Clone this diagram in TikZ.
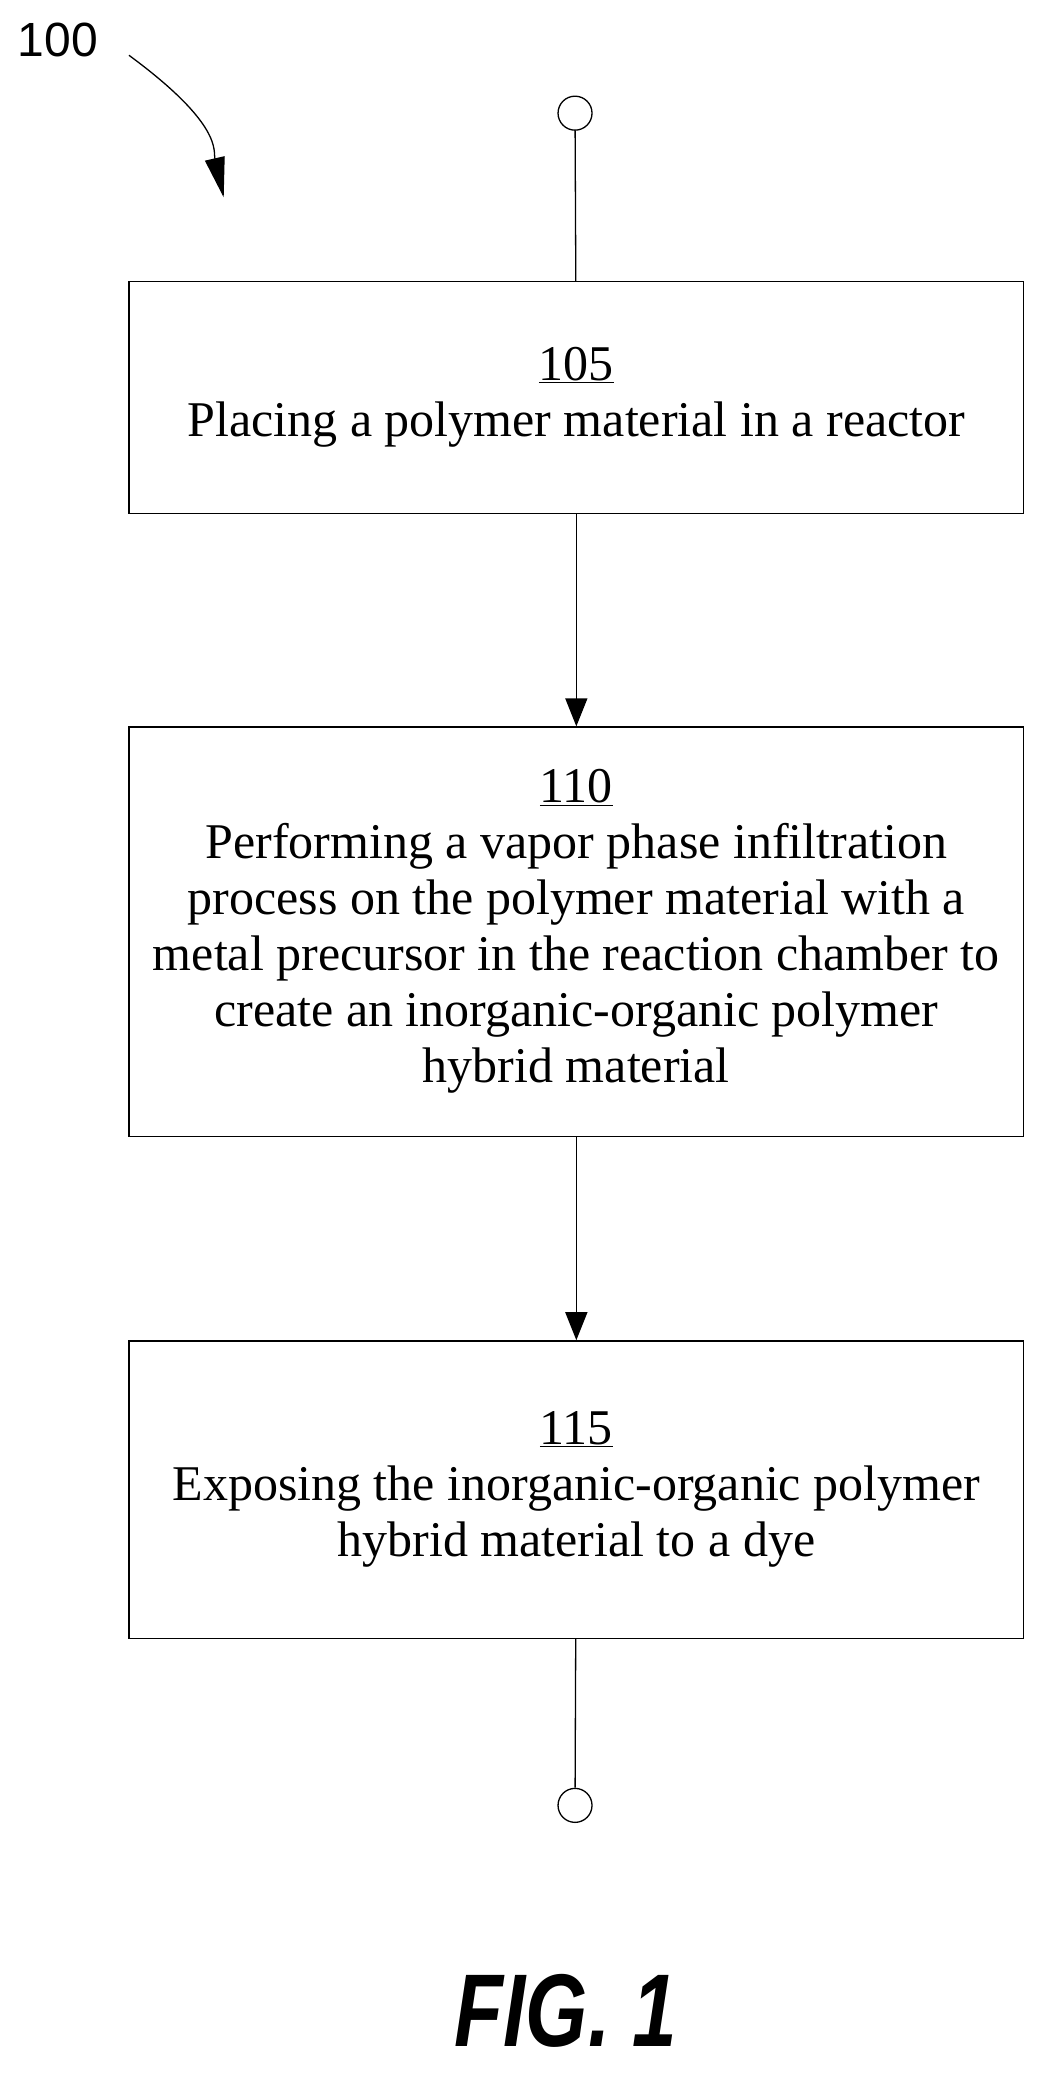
\documentclass[tikz,border=0pt]{standalone}
\usepackage{fontspec}
\setmainfont{Liberation Serif}
\newfontfamily\arial{Liberation Sans}
\usetikzlibrary{arrows.meta}
\begin{document}
\begin{tikzpicture}[x=1.316pt,y=-1.316pt,
  box/.style={draw,line width=1.3pt,minimum width=680*1.316pt,align=center,font=\fontsize{50}{56}\selectfont,inner sep=0pt},
  term/.style={draw,circle,line width=1.3pt,minimum size=34pt,inner sep=0pt},
  conn/.style={line width=1.3pt},
  arr/.style={conn,-{Triangle[length=28pt,width=22pt]}}]
\useasboundingbox (0,0) rectangle (800,1583);
\node[term] (s) at (437,86) {};
\node[box,minimum height=176*1.316pt] (b1) at (438,302) {\underline{105}\\Placing a polymer material in a reactor};
\node[box,minimum height=311*1.316pt] (b2) at (438,708) {\underline{110}\\Performing a vapor phase infiltration\\process on the polymer material with a\\metal precursor in the reaction chamber to\\create an inorganic-organic polymer\\hybrid material};
\node[box,minimum height=226*1.316pt] (b3) at (438,1132) {\underline{115}\\Exposing the inorganic-organic polymer\\hybrid material to a dye};
\node[term] (e) at (437,1372) {};
\draw[conn] (s) -- (b1);
\draw[arr] (b1) -- (b2);
\draw[arr] (b2) -- (b3);
\draw[conn] (b3) -- (e);
\node[font=\arial\fontsize{48}{48}\selectfont] (lbl) at (44,30) {100};
\coordinate (t) at (170,150);
\draw[conn,-{Triangle[length=40pt,width=20pt]}] (98,42) .. controls (170,95) and (162,115) .. (t);
\node[font=\arial\bfseries\itshape\fontsize{94}{94}\selectfont,xscale=0.85,yscale=1.1] (fig) at (430,1528) {FIG. 1};
\end{tikzpicture}
\end{document}
